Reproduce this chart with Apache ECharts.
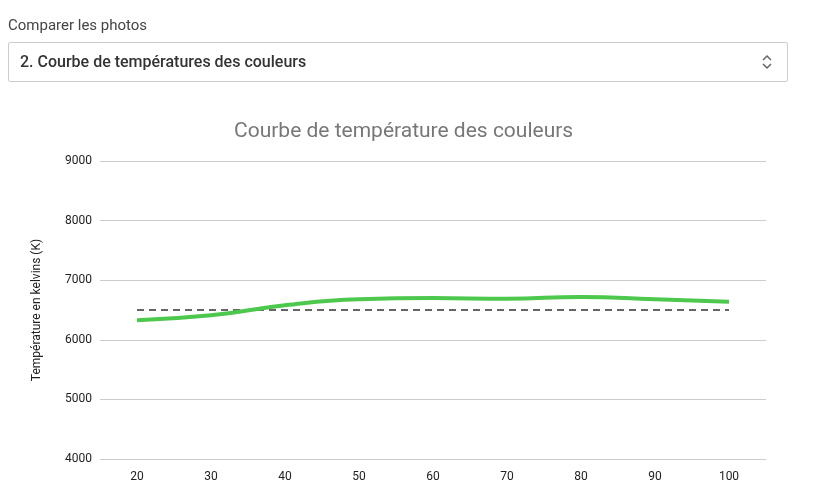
<!DOCTYPE html>
<html><head><meta charset="utf-8">
<script src="https://cdn.jsdelivr.net/npm/echarts@6/dist/echarts.min.js"></script>
<style>
body{margin:0;background:#fff;font-family:Roboto,sans-serif;}
#lbl{position:absolute;left:8px;top:16px;font-size:15px;color:#444;}
#sel{position:absolute;left:8px;top:42px;width:780px;height:40px;border:1px solid #ccc;border-radius:2px;box-sizing:border-box;}
#sel span{position:absolute;left:11px;top:9px;font-size:16px;font-weight:500;color:#333;}
#sel svg{position:absolute;right:14px;top:11px;}
#c{position:absolute;left:0;top:0;width:826px;height:491px;}
</style></head><body>
<div id="c"></div>
<div id="lbl">Comparer les photos</div>
<div id="sel"><span>2. Courbe de températures des couleurs</span>
<svg width="12" height="16" viewBox="0 0 12 16"><path d="M2 6 L6 2 L10 6 M2 10 L6 14 L10 10" fill="none" stroke="#666" stroke-width="1.5"/></svg></div>
<script>
const categories=['20','30','40','50','60','70','80','90','100'];
const measured=[6330,6410,6580,6680,6700,6690,6720,6680,6640];
const reference=[6500,6500,6500,6500,6500,6500,6500,6500,6500];
const yTicks=[4000,5000,6000,7000,8000,9000];
const ch=echarts.init(document.getElementById('c'));
ch.setOption({
 animation:false,
 title:{text:'Courbe de température des couleurs',left:229,top:116,textStyle:{fontFamily:'Roboto',fontSize:21,fontWeight:'normal',color:'#777'}},
 grid:{left:100,right:60,top:161,bottom:32},
 xAxis:{type:'category',data:categories,boundaryGap:true,axisLine:{show:false},axisTick:{show:false},axisLabel:{color:'#222',fontSize:12,fontFamily:'Roboto',margin:12}},
 yAxis:{type:'value',min:yTicks[0],max:yTicks[yTicks.length-1],interval:1000,name:'Température en kelvins (K)',nameLocation:'middle',nameGap:57,nameTextStyle:{fontSize:12,color:'#222',fontFamily:'Roboto'},axisLabel:{color:'#222',fontSize:12,fontFamily:'Roboto',margin:8,formatter:v=>String(v)},splitLine:{lineStyle:{color:'#ccc'}}},
 series:[
  {type:'line',data:reference,symbol:'none',lineStyle:{color:'#666',width:2,type:[7,5]}},
  {type:'line',data:measured,symbol:'none',smooth:true,lineStyle:{color:'#4cc84c',width:4}}
 ]
});
</script></body></html>
